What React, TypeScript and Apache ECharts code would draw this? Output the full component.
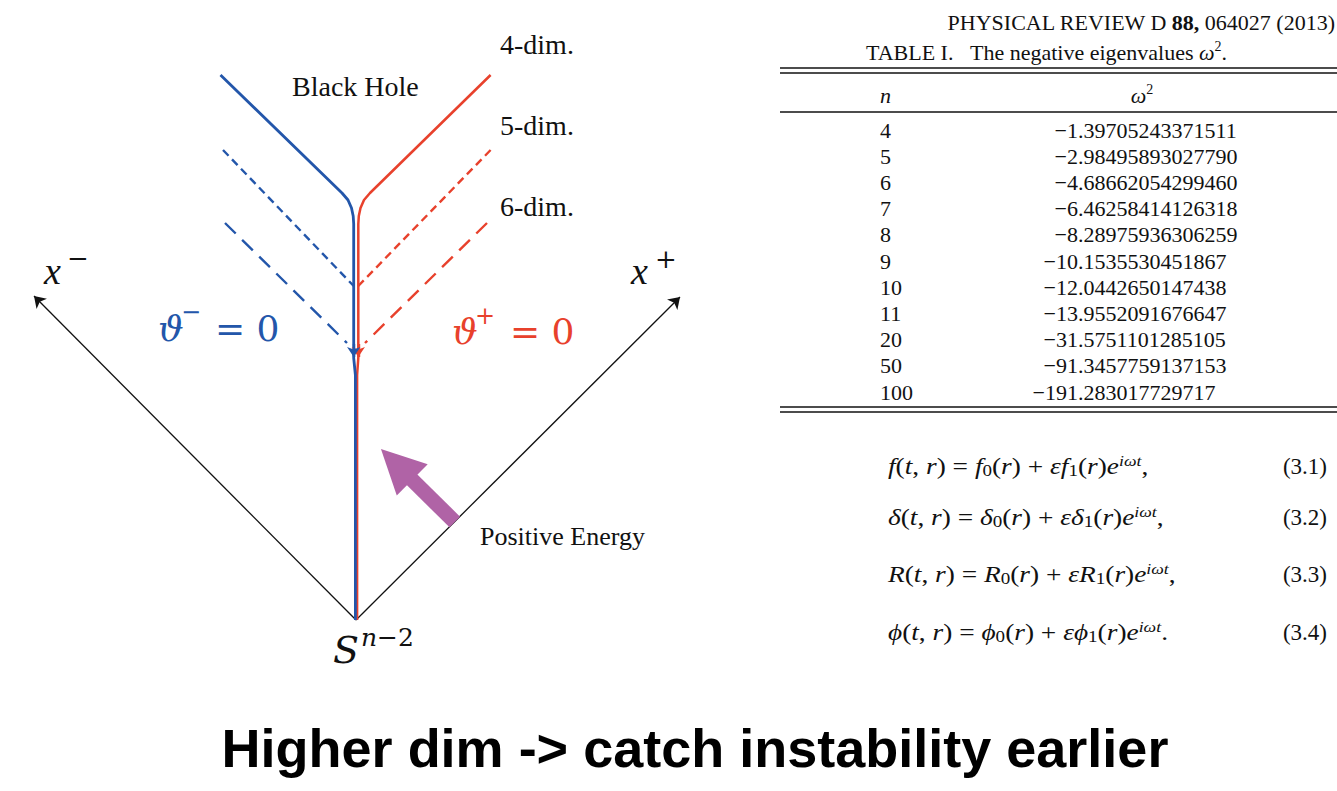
import React, { useEffect, useRef } from "react";
import * as echarts from "echarts";

// ---------- colours / fonts ----------
const BLUE = "#2356AA";
const RED = "#E8412C";
const PURPLE = "#B063A6";
const INK = "#111111";
const SERIF = "'Liberation Serif', 'Times New Roman', serif";
const MATH = "'DejaVu Serif', serif";
const SANS = "'Liberation Sans', Arial, sans-serif";

// ---------- diagram data (origin at the apex S^{n-2}, y upward, px units) ----------
const axisMinus = [[0, 0], [-322, 324]];
const axisPlus = [[0, 0], [324, 323]];
const blue4dim = [[-135.5, 545], [-14, 427], [-8, 420], [-4.5, 412], [-2.8, 404], [-2.3, 396], [-2.3, 262], [-0.6, 245], [-0.6, 0]];
const red4dim = [[134.6, 545], [14, 427], [8, 420], [4.5, 412], [2.8, 404], [2.3, 396], [2.3, 262], [1.1, 245], [1.1, 0]];
const blue5dim = [[-133, 470], [-2.3, 334]];
const red5dim = [[134.6, 470], [2.3, 334]];
const blue6dim = [[-131, 397], [-9, 277]];
const red6dim = [[131, 397], [9, 277]];
const blueArrowHead = [[-2.3, 276], [-2.3, 263]];
const redArrowHead = [[2.3, 276], [2.3, 263]];
const energyArrow = [[98.8, 98], [40.6, 155.5]];

// ---------- table data ----------
const tableDims = ["4", "5", "6", "7", "8", "9", "10", "11", "20", "50", "100"];
const tableOmega2 = [
  "−1.39705243371511",
  "−2.98495893027790",
  "−4.68662054299460",
  "−6.46258414126318",
  "−8.28975936306259",
  "−10.1535530451867",
  "−12.0442650147438",
  "−13.9552091676647",
  "−31.5751101285105",
  "−91.3457759137153",
  "−191.283017729717",
];

// ---------- equations ----------
const eqSymbols = ["f", "δ", "R", "ϕ"];
const eqPunct = [",", ",", ",", "."];
const eqNumbers = ["(3.1)", "(3.2)", "(3.3)", "(3.4)"];
const eqRows = [466, 517, 574, 632];

const dimLabels = ["4-dim.", "5-dim.", "6-dim."];
const title = "Higher dim -> catch instability earlier";

function txt(x: number, y: number, text: string, fontSize: number, o: any = {}) {
  return {
    type: "text",
    x,
    y,
    scaleX: o.scaleX || 1,
    silent: true,
    z: 10,
    style: {
      text,
      fontSize,
      fontFamily: o.family || SERIF,
      fontStyle: o.italic ? "italic" : "normal",
      fontWeight: o.bold ? "bold" : "normal",
      fill: o.color || INK,
      align: o.align || "left",
      verticalAlign: "middle",
      rich: o.rich,
    },
  };
}

function hline(y: number, w: number) {
  return {
    type: "line",
    silent: true,
    shape: { x1: 780, y1: y, x2: 1337, y2: y },
    style: { stroke: INK, lineWidth: w },
  };
}

function buildGraphic() {
  const g: any[] = [];
  // diagram labels
  g.push(txt(292, 86, "Black Hole", 28));
  dimLabels.forEach((d, i) => g.push(txt(500, [44, 125, 206][i], d, 28)));
  g.push(txt(44, 271, "x", 38, { italic: true }));
  g.push(txt(67, 258, "−", 26, { family: MATH }));
  g.push(txt(631, 271, "x", 38, { italic: true }));
  g.push(txt(655, 259, "+", 26, { family: MATH }));
  g.push(txt(158, 328, "ϑ", 36, { family: MATH, italic: true, color: BLUE }));
  g.push(txt(181, 312, "−", 24, { family: MATH, color: BLUE }));
  g.push(txt(215, 328, "= 0", 36, { family: MATH, color: BLUE }));
  g.push(txt(452, 331, "ϑ", 36, { family: MATH, italic: true, color: RED }));
  g.push(txt(475, 316, "+", 24, { family: MATH, color: RED }));
  g.push(txt(510, 331, "= 0", 36, { family: MATH, color: RED }));
  g.push(txt(480, 536, "Positive Energy", 26));
  g.push(txt(333, 650, "S", 38, { family: MATH, italic: true }));
  g.push(txt(361, 637, "{i|n}{n|−2}", 25, {
    rich: {
      i: { fontSize: 25, fontFamily: MATH, fontStyle: "italic", fill: INK },
      n: { fontSize: 25, fontFamily: MATH, fill: INK },
    },
  }));

  // paper header + table
  g.push(txt(1335, 22, "{r|PHYSICAL REVIEW D }{b|88,}{r| 064027 (2013)}", 22, {
    align: "right",
    rich: {
      r: { fontSize: 22, fontFamily: SERIF, fill: INK },
      b: { fontSize: 22, fontFamily: SERIF, fontWeight: "bold", fill: INK },
    },
  }));
  g.push(txt(866, 52, "{r|TABLE I.\u00a0\u00a0\u00a0The negative eigenvalues }{i|ω}{s|2}{r|.}", 22, {
    rich: {
      r: { fontSize: 22, fontFamily: SERIF, fill: INK, lineHeight: 26 },
      i: { fontSize: 22, fontFamily: SERIF, fontStyle: "italic", fill: INK, lineHeight: 26 },
      s: { fontSize: 14, fontFamily: SERIF, fill: INK, lineHeight: 14, verticalAlign: "top" },
    },
  }));
  g.push(hline(68, 1.6));
  g.push(hline(73, 1.6));
  g.push(txt(880, 95, "n", 22, { italic: true }));
  g.push(txt(1142, 95, "{i|ω}{s|2}", 22, {
    align: "center",
    rich: {
      i: { fontSize: 22, fontFamily: SERIF, fontStyle: "italic", fill: INK, lineHeight: 26 },
      s: { fontSize: 14, fontFamily: SERIF, fill: INK, lineHeight: 14, verticalAlign: "top" },
    },
  }));
  g.push(hline(112, 1.3));
  const DX = 1078;
  tableDims.forEach((n, i) => {
    const y = 130 + i * 26.2;
    g.push(txt(880, y, n, 22));
    const v = tableOmega2[i];
    const k = v.indexOf(".");
    g.push(txt(DX, y, v.slice(0, k), 22, { align: "right" }));
    g.push(txt(DX, y, v.slice(k), 22));
  });
  g.push(hline(407, 1.6));
  g.push(hline(412, 1.6));

  // equations
  const eqRich = {
    i: { fontSize: 23, fontFamily: SERIF, fontStyle: "italic", fill: INK, lineHeight: 26 },
    n: { fontSize: 23, fontFamily: SERIF, fill: INK, lineHeight: 26 },
    b: { fontSize: 16, fontFamily: SERIF, fill: INK, lineHeight: 12, verticalAlign: "bottom" },
    p: { fontSize: 15, fontFamily: SERIF, fontStyle: "italic", fill: INK, lineHeight: 15, verticalAlign: "top" },
  };
  eqSymbols.forEach((s, i) => {
    const y = eqRows[i];
    const t =
      `{i|${s}}{n|(}{i|t}{n|, }{i|r}{n|) = }{i|${s}}{b|0}{n|(}{i|r}{n|) + }` +
      `{i|ε${s}}{b|1}{n|(}{i|r}{n|)}{i|e}{p|iωt}{n|${eqPunct[i]}}`;
    g.push(txt(888, y, t, 23, { rich: eqRich, scaleX: 1.19 }));
    g.push(txt(1327, y, eqNumbers[i], 23, { align: "right" }));
  });

  // slide title
  g.push(txt(695, 748, title, 54, { family: SANS, bold: true, align: "center", color: "#000" }));
  return g;
}

function lineSeries(data: number[][], color: string, width: number, dash: any, z: number) {
  return {
    type: "line",
    data,
    showSymbol: false,
    symbol: "none",
    silent: true,
    z,
    lineStyle: { color, width, type: dash, cap: "butt" },
  };
}

export default function App() {
  const ref = useRef<HTMLDivElement>(null);
  useEffect(() => {
    document.body.style.margin = "0";
    const chart = echarts.init(ref.current!, null, { renderer: "svg" });
    chart.setOption({
      animation: false,
      backgroundColor: "#ffffff",
      grid: { left: 0, top: 0, width: 760, height: 700, containLabel: false },
      xAxis: { type: "value", min: -356, max: 404, show: false },
      yAxis: { type: "value", min: -80, max: 620, show: false },
      series: [
        {
          type: "lines",
          coordinateSystem: "cartesian2d",
          silent: true,
          z: 2,
          symbol: ["none", "arrow"],
          symbolSize: 11,
          lineStyle: { color: INK, width: 1.3, opacity: 1, curveness: 0 },
          data: [{ coords: axisMinus }, { coords: axisPlus }],
        },
        lineSeries(red4dim, RED, 2.5, "solid", 3),
        lineSeries(red5dim, RED, 2.4, [8, 5], 3),
        lineSeries(red6dim, RED, 2.4, [15, 9], 3),
        lineSeries(blue4dim, BLUE, 2.8, "solid", 4),
        lineSeries(blue5dim, BLUE, 2.4, [8, 5], 4),
        lineSeries(blue6dim, BLUE, 2.4, [15, 9], 4),
        {
          type: "lines",
          coordinateSystem: "cartesian2d",
          silent: true,
          z: 5,
          symbol: ["none", "arrow"],
          symbolSize: 10,
          lineStyle: { color: RED, width: 2.4, opacity: 1 },
          itemStyle: { color: RED },
          data: [{ coords: redArrowHead }],
        },
        {
          type: "lines",
          coordinateSystem: "cartesian2d",
          silent: true,
          z: 6,
          symbol: ["none", "arrow"],
          symbolSize: 10,
          lineStyle: { color: BLUE, width: 2.4, opacity: 1 },
          itemStyle: { color: BLUE },
          data: [{ coords: blueArrowHead }],
        },
        {
          type: "lines",
          coordinateSystem: "cartesian2d",
          silent: true,
          z: 6,
          symbol: ["none", "triangle"],
          symbolSize: 44,
          lineStyle: { color: PURPLE, width: 15, opacity: 1, cap: "butt" },
          itemStyle: { color: PURPLE },
          data: [{ coords: energyArrow }],
        },
      ],
      graphic: buildGraphic(),
    });
    return () => chart.dispose();
  }, []);
  return (
    <div
      ref={ref}
      style={{ position: "fixed", left: 0, top: 0, width: 1337, height: 791, background: "#fff" }}
    />
  );
}
